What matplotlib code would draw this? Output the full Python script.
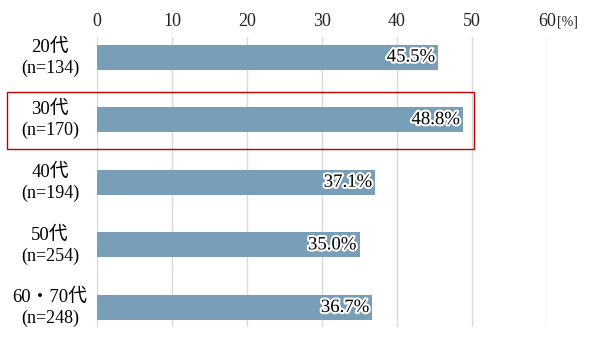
import matplotlib
matplotlib.use("Agg")
import matplotlib.pyplot as plt
import matplotlib.patheffects as pe
from matplotlib.patches import Rectangle
from matplotlib.transforms import blended_transform_factory

plt.rcParams['font.family'] = ['Liberation Serif', 'Noto Sans CJK JP', 'DejaVu Serif']

ages = ['20代', '30代', '40代', '50代', '60・70代']
counts = ['(n=134)', '(n=170)', '(n=194)', '(n=254)', '(n=248)']
values = [45.5, 48.8, 37.1, 35.0, 36.7]
xticks = [0, 10, 20, 30, 40, 50, 60]

fig = plt.figure(figsize=(6.0, 3.48), dpi=100)
ax = fig.add_axes([97 / 600, 1 - 327 / 348, 450 / 600, 290 / 348])

pos = list(range(len(values)))
ax.barh(pos, values, height=0.4, color='#789fb7', zorder=2)
ax.set_xlim(0, 60)
ax.set_ylim(4 + 19.5 / 62.5, -20 / 62.5)

ax.set_xticks(xticks)
ax.xaxis.tick_top()
ax.tick_params(axis='x', length=0, pad=5, labelsize=13, colors='#222222')
ax.set_yticks([])
ax.grid(axis='x', color='#d9d9d9', linewidth=1, zorder=0)
for s in ax.spines.values():
    s.set_visible(False)

# value labels inside bar ends
for p, v in zip(pos, values):
    ax.text(v - 0.4, p, f'{v:.1f}%', ha='right', va='center', fontsize=13.5,
            color='black', zorder=3,
            path_effects=[pe.withStroke(linewidth=3, foreground='white')])

# category labels on the left
tr = blended_transform_factory(fig.transFigure, ax.transData)
for p, a, c in zip(pos, ages, counts):
    ax.text(50 / 600, p - 0.02, a, ha='center', va='bottom', fontsize=13.5,
            transform=tr)
    ax.text(50 / 600, p + 0.04, c, ha='center', va='top', fontsize=13,
            transform=tr)

fig.text(557 / 600, 1 - 22 / 348, '[%]', ha='left', va='center', fontsize=10,
         color='#222222')

# highlight box around 30代
fig.patches.append(Rectangle((7 / 600, 1 - 149 / 348), 467 / 600, 57 / 348,
                             transform=fig.transFigure, fill=False,
                             edgecolor='#c00000', linewidth=1))

fig.savefig('out.png', dpi=100)
